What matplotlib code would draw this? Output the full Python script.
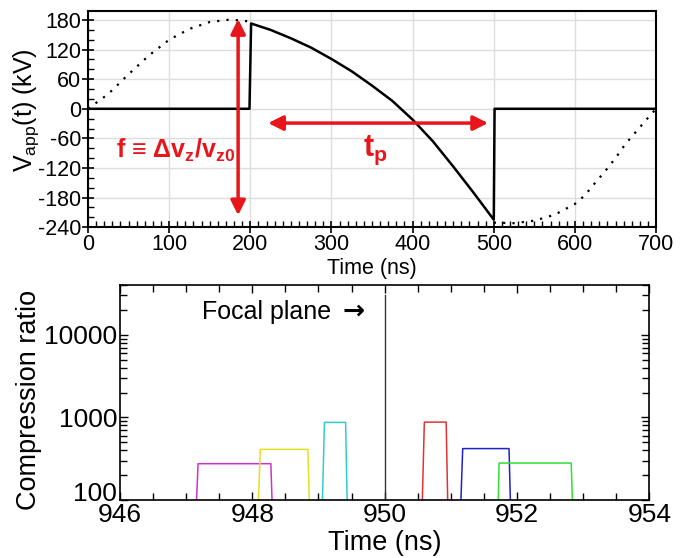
import matplotlib
matplotlib.use('Agg')
import matplotlib.pyplot as plt
import matplotlib.transforms as mtransforms
from matplotlib.ticker import MultipleLocator, LogLocator, NullFormatter

plt.rcParams['font.family'] = ['Liberation Sans', 'DejaVu Sans']
plt.rcParams['mathtext.default'] = 'regular'
plt.rcParams['axes.unicode_minus'] = False

# top panel: applied voltage (kV) vs time (ns)
t_sine = [0, 25, 50, 75, 100, 125, 150, 175, 200]
v_sine = [0, 30, 70, 108, 140, 162, 176, 181, 177]
t_sine2 = [500, 525, 550, 575, 600, 612, 625, 637, 650, 662, 675, 687, 700]
v_sine2 = [-231, -232, -227, -215, -193, -176, -150, -127, -100, -72, -47, -24, 0]
t_pulse = [0, 199, 201, 225, 250, 275, 300, 325, 350, 375, 400, 425, 450, 475, 500, 501, 700]
v_pulse = [0, 0, 173, 160, 143, 124, 101, 76, 47, 16, -22, -66, -117, -170, -225, 0, 0]

# bottom panel: compression ratio pulses (rise start, top start, top end, fall end)
rise0 = [947.14, 948.08, 949.05, 950.56, 951.14, 951.71]
rise1 = [947.18, 948.12, 949.09, 950.60, 951.18, 951.73]
fall0 = [948.28, 948.84, 949.41, 950.93, 951.88, 952.82]
fall1 = [948.31, 948.87, 949.44, 950.96, 951.91, 952.85]
plateau = [275, 410, 870, 877, 419, 280]
colors = ['#cc33cc', '#e0e020', '#33cccc', '#e03333', '#2222cc', '#33dd33']
focal_t = 950.0
focal_top = 30000

red = '#e8161b'

fig = plt.figure(figsize=(6.82, 5.58), dpi=100)

# ---- top panel
ax = fig.add_axes([0.129, 0.593, 0.833, 0.387])
ax.plot(t_sine, v_sine, color='k', lw=1.6, ls=(0, (1, 3.2)))
ax.plot(t_sine2, v_sine2, color='k', lw=1.6, ls=(0, (1, 3.2)))
ax.plot(t_pulse, v_pulse, color='k', lw=1.8)
ax.set_xlim(0, 700)
ax.set_ylim(-240, 198)
ax.set_xticks(range(0, 701, 100))
ax.set_yticks(range(-240, 181, 60))
ax.xaxis.set_minor_locator(MultipleLocator(10))
ax.yaxis.set_minor_locator(MultipleLocator(20))
ax.tick_params(which='major', direction='inout', length=8, width=1.2, labelsize=15.5, pad=1)
ax.tick_params(which='minor', direction='in', length=4, width=1)
ax.grid(True, color='#dddddd', lw=1)
ax.set_axisbelow(True)
for s in ax.spines.values():
    s.set_linewidth(1.5)
ax.set_xlabel('Time (ns)', fontsize=15.5)
ax.set_ylabel('V$_{app}$(t) (kV)', fontsize=18)
ax.xaxis.set_label_coords(0.5, -0.145)
ax.yaxis.set_label_coords(-0.083, 0.54)

ax.annotate('', xy=(185, 182), xytext=(185, -216),
            arrowprops=dict(arrowstyle='<|-|>', color=red, lw=2.5, mutation_scale=22, shrinkA=0, shrinkB=0))
ax.annotate('', xy=(222, -29), xytext=(493, -29),
            arrowprops=dict(arrowstyle='<|-|>', color=red, lw=2.5, mutation_scale=22, shrinkA=0, shrinkB=0))
ax.text(181, -85, 'f ≡ Δv$_z$/v$_{z0}$', color=red, fontsize=18, fontweight='bold',
        ha='right', va='center')
ax.text(354, -85, 't$_p$', color=red, fontsize=22, fontweight='bold', ha='center', va='center')

# ---- bottom panel
bx = fig.add_axes([0.176, 0.104, 0.776, 0.385])
for i in range(len(plateau)):
    bx.plot([rise0[i], rise1[i], fall0[i], fall1[i]],
            [50, plateau[i], plateau[i], 50], color=colors[i], lw=1.1)
bx.plot([focal_t, focal_t], [50, focal_top], color='#333333', lw=1)
bx.set_yscale('log')
bx.set_xlim(946, 954)
bx.set_ylim(100, 40000)
bx.set_xticks(range(946, 955, 2))
bx.xaxis.set_minor_locator(MultipleLocator(0.5))
bx.set_yticks([100, 1000, 10000])
bx.set_yticklabels(['100', '1000', '10000'])
bx.yaxis.set_minor_locator(LogLocator(base=10, subs=range(2, 10)))
bx.yaxis.set_minor_formatter(NullFormatter())
bx.tick_params(which='both', direction='in', top=True, right=True, width=1)
bx.tick_params(which='major', length=6, labelsize=19, pad=2)
bx.tick_params(which='minor', length=5)
for s in bx.spines.values():
    s.set_linewidth(1.2)
# lift the lowest y label a little so it clears the x labels
lab100 = bx.get_yticklabels()[0]
lab100.set_transform(lab100.get_transform() + mtransforms.ScaledTranslation(0, 0.08, fig.dpi_scale_trans))
bx.set_xlabel('Time (ns)', fontsize=19.5)
bx.set_ylabel('Compression ratio', fontsize=19.5)
bx.xaxis.set_label_coords(0.5, -0.14)
bx.yaxis.set_label_coords(-0.148, 0.465)
bx.text(947.24, 19000, 'Focal plane', fontsize=18, ha='left', va='center')
bx.text(949.53, 19000, '→', fontsize=19, fontweight='bold', family='DejaVu Sans',
        ha='center', va='center')

fig.savefig('out.png', dpi=100)
